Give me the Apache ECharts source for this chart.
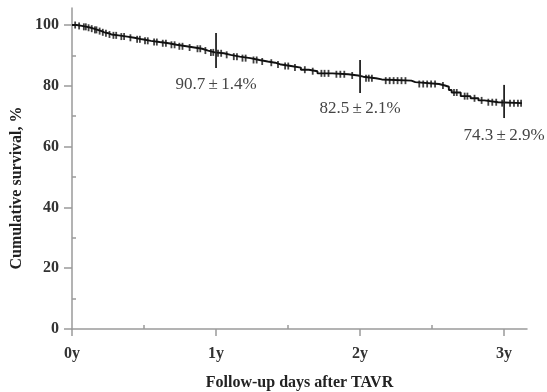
<!DOCTYPE html>
<html><head><meta charset="utf-8">
<script src="https://cdn.jsdelivr.net/npm/echarts@6/dist/echarts.min.js"></script>
<style>html,body{margin:0;padding:0;background:#fff}#c{width:547px;height:392px}</style>
</head><body><div id="c"></div>
<script>
// Kaplan-Meier step events: day, cumulative survival %
const eventDays = [0,12,25,38,48,55,65,75,82,92,100,118,140,158,178,200,222,245,265,290,310,330,345,362,385,402,425,452,475,496,515,530,555,580,600,622,660,700,725,738,770,785,860,870,930,945,955,962,985,1010,1030,1045,1080,1140];
const survival  = [100,99.7,99.4,99.1,98.8,98.4,98.0,97.6,97.3,96.9,96.6,96.2,95.8,95.3,94.8,94.4,94.0,93.5,93.0,92.6,92.2,91.6,91.0,90.7,90.2,89.6,89.1,88.5,88.0,87.6,87.0,86.5,86.0,85.3,84.8,84.1,83.8,83.4,83.0,82.5,82.1,81.7,81.2,80.6,80.1,79.7,78.6,77.8,76.6,75.9,75.2,74.6,74.3,74.3];
// censored observation days
const censorDays = [8,18,30,35,42,50,58,62,70,78,86,95,105,112,125,132,148,165,172,185,192,208,215,230,238,252,260,272,280,298,318,325,338,352,358,370,378,392,410,418,432,440,460,468,482,505,522,540,548,565,590,610,632,640,650,670,680,690,710,745,752,760,795,805,815,825,835,845,880,890,900,910,920,940,968,975,995,1002,1020,1038,1055,1065,1075,1090,1110,1120,1130,1138];
// yearly estimates with marker bars
const markDays = [365,730,1095];
const markLow  = [85.9,77.6,69.4];
const markHigh = [97.4,88.5,80.3];
const markText = ['90.7\u2009±\u20091.4%','82.5\u2009±\u20092.1%','74.3\u2009±\u20092.9%'];
const markTextY = [80.4,72.5,63.6];
// axis ticks
const xMajor = [0,365,730,1095];
const xMajorLabels = ['0y','1y','2y','3y'];
const xMinor = [182.5,547.5,912.5];
const yMajor = [0,20,40,60,80,100];
const yMinor = [10,30,50,70,90];
const yTitle = 'Cumulative survival, %';
const xTitle = 'Follow-up days after TAVR';

function survAt(d){let v=100;for(let i=0;i<eventDays.length;i++){if(eventDays[i]<=d)v=survival[i];else break;}return v;}

const FONT='Liberation Serif';
const axisCol='#9a9a9a';
const chart = echarts.init(document.getElementById('c'));
const xBase = {type:'value',min:0,max:1153,gridIndex:0};
const yBase = {type:'value',min:0,max:105.6,gridIndex:0};
chart.setOption({
  animation:false,
  grid:{left:72,right:20,top:8,bottom:63,containLabel:false,outerBoundsMode:'none'},
  graphic:[{type:'text',x:17,y:188,rotation:Math.PI/2,
    style:{text:yTitle,align:'center',verticalAlign:'middle',fontFamily:FONT,fontWeight:'bold',fontSize:16,fill:'#222'}}],
  xAxis:[
    Object.assign({},xBase,{
      name:xTitle,nameLocation:'middle',nameGap:46,
      nameTextStyle:{fontFamily:FONT,fontWeight:'bold',fontSize:16,color:'#222'},
      axisLine:{show:true,onZero:false,lineStyle:{color:axisCol,width:1.5}},
      axisTick:{show:true,customValues:xMajor,length:7,lineStyle:{color:axisCol,width:1.5}},
      axisLabel:{customValues:xMajor,formatter:v=>xMajorLabels[xMajor.indexOf(v)]||'',margin:17,fontFamily:FONT,fontWeight:'bold',fontSize:16,color:'#333'},
      splitLine:{show:false}}),
    Object.assign({},xBase,{
      axisLine:{show:false},
      axisTick:{show:true,customValues:xMinor,length:4,lineStyle:{color:axisCol,width:1.5}},
      axisLabel:{show:false},splitLine:{show:false}})
  ],
  yAxis:[
    Object.assign({},yBase,{
      axisLine:{show:true,onZero:false,lineStyle:{color:axisCol,width:1.5}},
      axisTick:{show:true,customValues:yMajor,length:8,lineStyle:{color:axisCol,width:1.5}},
      axisLabel:{customValues:yMajor,margin:13,fontFamily:FONT,fontWeight:'bold',fontSize:16,color:'#333'},
      splitLine:{show:false}}),
    Object.assign({},yBase,{
      axisLine:{show:false},
      axisTick:{show:true,customValues:yMinor,length:4,lineStyle:{color:axisCol,width:1.5}},
      axisLabel:{show:false},splitLine:{show:false}})
  ],
  series:[
    {type:'line',step:'end',showSymbol:false,data:eventDays.map((d,i)=>[d,survival[i]]),
     lineStyle:{color:'#111',width:1.9},z:3},
    {type:'scatter',data:censorDays.map(d=>[d,survAt(d)]),symbol:'rect',symbolSize:[1.8,7],
     itemStyle:{color:'#111'},z:4},
    {type:'custom',data:markDays.map((d,i)=>[d,markLow[i],markHigh[i]]),z:5,
     renderItem:(p,api)=>{const a=api.coord([api.value(0),api.value(1)]);const b=api.coord([api.value(0),api.value(2)]);
       return {type:'line',shape:{x1:a[0],y1:a[1],x2:b[0],y2:b[1]},style:{stroke:'#222',lineWidth:1.8}};}},
    {type:'custom',data:markDays.map((d,i)=>[d,markTextY[i]]),z:5,
     renderItem:(p,api)=>{const a=api.coord([api.value(0),api.value(1)]);
       return {type:'text',x:a[0],y:a[1],style:{text:markText[p.dataIndex],align:'center',verticalAlign:'middle',fontFamily:FONT,fontSize:17,fill:'#444'}};}}
  ]
});
</script></body></html>
